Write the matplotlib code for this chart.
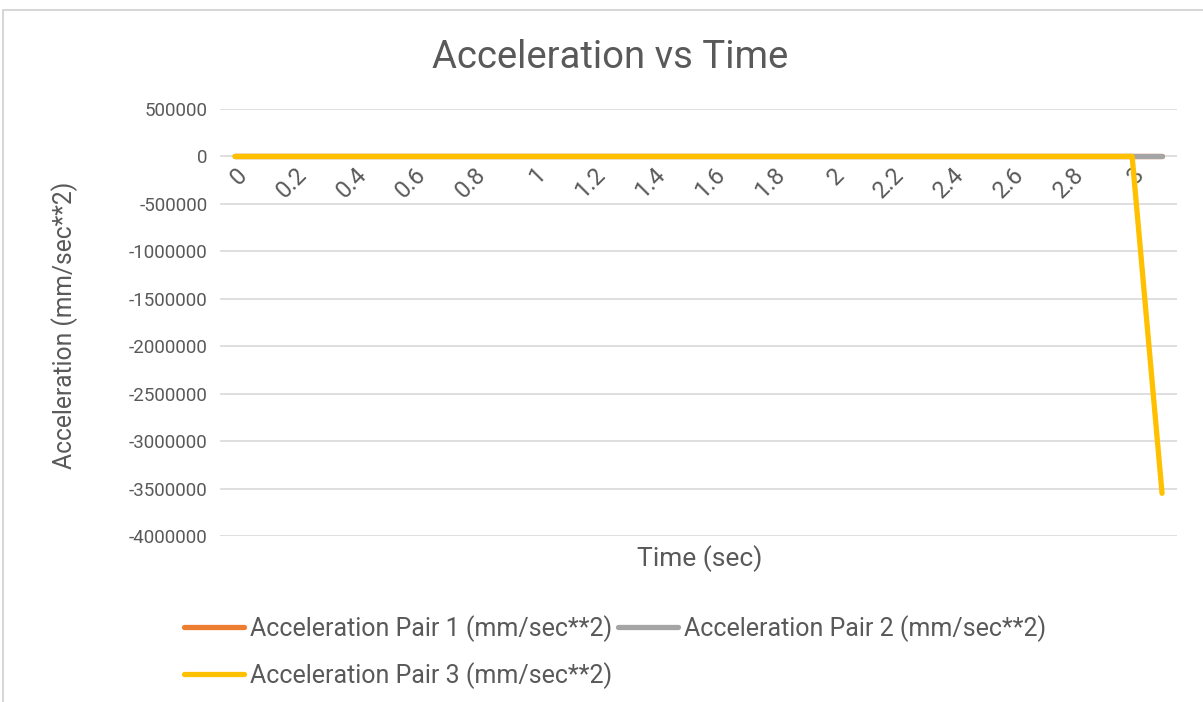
import matplotlib.pyplot as plt
from matplotlib.patches import Rectangle

plt.rcParams['font.family'] = ['Roboto', 'DejaVu Sans']

# time steps (sec)
time_sec = [0.0, 0.1, 0.2, 0.3, 0.4, 0.5, 0.6, 0.7, 0.8, 0.9,
            1.0, 1.1, 1.2, 1.3, 1.4, 1.5, 1.6, 1.7, 1.8, 1.9,
            2.0, 2.1, 2.2, 2.3, 2.4, 2.5, 2.6, 2.7, 2.8, 2.9,
            3.0, 3.1]

# acceleration (mm/sec**2)
accel_pair1 = [0, 0, 0, 0, 0, 0, 0, 0, 0, 0,
               0, 0, 0, 0, 0, 0, 0, 0, 0, 0,
               0, 0, 0, 0, 0, 0, 0, 0, 0, 0,
               0, 0]
accel_pair2 = [0, 0, 0, 0, 0, 0, 0, 0, 0, 0,
               0, 0, 0, 0, 0, 0, 0, 0, 0, 0,
               0, 0, 0, 0, 0, 0, 0, 0, 0, 0,
               0, 0]
accel_pair3 = [0, 0, 0, 0, 0, 0, 0, 0, 0, 0,
               0, 0, 0, 0, 0, 0, 0, 0, 0, 0,
               0, 0, 0, 0, 0, 0, 0, 0, 0, 0,
               0, -3550000]

series_names = ['Acceleration Pair 1 (mm/sec**2)',
                'Acceleration Pair 2 (mm/sec**2)',
                'Acceleration Pair 3 (mm/sec**2)']
y_ticks = [500000, 0, -500000, -1000000, -1500000, -2000000,
           -2500000, -3000000, -3500000, -4000000]

text_col = '#595959'
grid_col = '#d9d9d9'

fig = plt.figure(figsize=(12.03, 7.02), dpi=100)
ax = fig.add_axes([220 / 1203, 1 - 536 / 702, 957 / 1203, 427 / 702])

# chart frame
fig.patches.append(Rectangle((3 / 1203, -0.1), 1.2, 1 - 10 / 702 + 0.1,
                             transform=fig.transFigure, fill=False,
                             edgecolor='#d0d0d0', linewidth=1.2))

# category axis: one slot per time step
pos = list(range(len(time_sec)))
lines = []
for vals, col in [(accel_pair1, '#ed7d31'), (accel_pair2, '#a5a5a5'),
                  (accel_pair3, '#ffc000')]:
    ln, = ax.plot(pos, vals, color=col, linewidth=3.8,
                  solid_capstyle='round', solid_joinstyle='round', zorder=3)
    lines.append(ln)

ax.set_xlim(-0.5, len(time_sec) - 0.5)
ax.set_ylim(-4000000, 500000)
ax.set_yticks(y_ticks)
ax.set_yticklabels([str(v) for v in y_ticks])
ax.grid(axis='y', color=grid_col, linewidth=1.2, zorder=0)
ax.set_axisbelow(True)

# x labels sit on the zero line, every second category
ax.spines['bottom'].set_position(('data', 0))
for s in ['top', 'right', 'left', 'bottom']:
    ax.spines[s].set_visible(False)
ax.set_xticks(pos[::2])
ax.set_xticklabels([f'{t:g}' for t in time_sec[::2]], rotation=45,
                   ha='right', va='top', rotation_mode='anchor')
ax.tick_params(axis='x', length=0, pad=5, labelsize=17, labelcolor=text_col)
ax.tick_params(axis='y', length=0, pad=9, labelsize=13.5, labelcolor=text_col)

fig.text(610 / 1203, 1 - 57 / 702, 'Acceleration vs Time', ha='center',
         va='center', fontsize=27.5, color=text_col)
fig.text(65 / 1203, 1 - 325 / 702, 'Acceleration (mm/sec**2)', rotation=90,
         ha='center', va='center', fontsize=17.7, color=text_col)
fig.text(700 / 1203, 1 - 559 / 702, 'Time (sec)', ha='center', va='center',
         fontsize=19, color=text_col)

# legend fills column-wise, so order handles to read row by row
order = [0, 2, 1]
leg = fig.legend([lines[i] for i in order], [series_names[i] for i in order],
                 ncol=2, loc='center',
                 bbox_to_anchor=(615 / 1203, 1 - 652 / 702), frameon=False,
                 fontsize=18, handlelength=2.4, handletextpad=0.25,
                 columnspacing=0.25, labelspacing=0.8)
for t in leg.get_texts():
    t.set_color(text_col)

fig.savefig('out.png', dpi=100)
